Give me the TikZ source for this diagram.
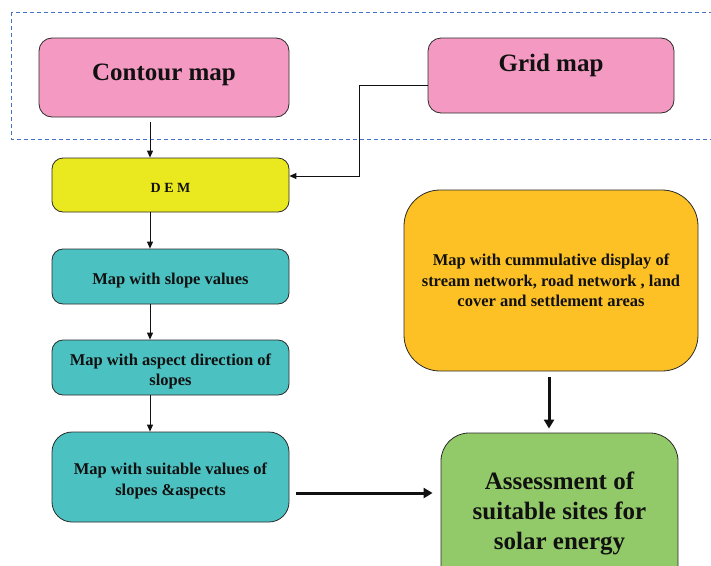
\documentclass[tikz,border=0pt]{standalone}
\usepackage{fontspec}
\setmainfont{Liberation Serif}
\usetikzlibrary{arrows.meta, positioning}
\definecolor{ink}{HTML}{111111}
\definecolor{edge}{HTML}{2B2B2B}
\definecolor{pinkfill}{HTML}{F49AC2}
\definecolor{yellowfill}{HTML}{EAE81E}
\definecolor{tealfill}{HTML}{4CC1C1}
\definecolor{orangefill}{HTML}{FDC125}
\definecolor{greenfill}{HTML}{93CA69}
\definecolor{dashblue}{HTML}{4472C4}
\tikzset{
  %
  stage/.style={
    draw=edge, line width=0.8pt, rounded corners=11pt, align=center,
    text=ink, inner sep=4pt, font=\bfseries\fontsize{16.5}{20.5}\selectfont,
  },
  stagepink/.style={stage, fill=pinkfill, rounded corners=13pt,
                    font=\bfseries\fontsize{25}{30}\selectfont},
  stageyel/.style={stage, fill=yellowfill},
  stageteal/.style={stage, fill=tealfill},
  stageorg/.style={stage, fill=orangefill, rounded corners=36pt},
  stagegrn/.style={stage, fill=greenfill, rounded corners=28pt,
                   font=\bfseries\fontsize{25}{30}\selectfont},
  %
  flow/.style={draw=ink, line width=0.9pt, -{Triangle[length=7pt, width=6pt]}},
  flowbold/.style={draw=ink, line width=3pt, -{Triangle[length=9pt, width=10pt]}},
  frame/.style={draw=dashblue, line width=0.9pt, dash pattern=on 4pt off 3pt},
}

\begin{document}
\begin{tikzpicture}[x=1pt, y=-1pt]

  \clip (0,0) rectangle (711,565);

  % input layer
  \draw[frame] (11,12) rectangle (725,139);

  \node[stagepink, minimum width=250, minimum height=79, text depth=11.5pt]
    (contour) at (164,77.5) {Contour map};
  \node[stagepink, minimum width=246, minimum height=75, text depth=25pt]
    (grid) at (551,75.5) {Grid map};

  % slope chain
  \node[stageyel, minimum width=237, minimum height=54, text height=15pt,
        font=\bfseries\fontsize{14}{17}\selectfont]
    (dem) at (170.5,185) {D E M};
  \node[stageteal, minimum width=237, minimum height=55, text height=20pt]
    (slope) at (170.5,276.5) {Map with slope values};
  \node[stageteal, minimum width=237, minimum height=55, text height=40pt]
    (aspect) at (170.5,367.5) {Map with aspect direction of\\slopes};
  \node[stageteal, minimum width=237, minimum height=90, rounded corners=20pt,
        text height=40pt]
    (suit) at (170.5,477) {Map with suitable values of\\slopes \&aspects};

  % overlay and result
  \node[stageorg, minimum width=294, minimum height=181]
    (overlay) at (551,280.5)
    {Map with cummulative display of\\stream network, road network , land\\cover and settlement areas};
  \node[stagegrn, minimum width=237, minimum height=160]
    (result) at (559.5,513) {Assessment of\\suitable sites for\\solar energy};

  \coordinate (spine) at (150,0);
  \coordinate (elbow) at (359,176);

  \draw[flow, shorten <=5pt] (contour.south -| spine) -- (dem.north -| spine);
  \draw[flow] ([yshift=-9.5pt]grid.west) -| (elbow) -- (elbow -| dem.east);
  \draw[flow] (dem.south -| spine) -- (slope.north -| spine);
  \draw[flow] (slope.south -| spine) -- (aspect.north -| spine);
  \draw[flow] (aspect.south -| spine) -- (suit.north -| spine);

  \draw[flowbold, shorten <=7pt, shorten >=8pt]
    ([yshift=-16pt]suit.east) -- ([yshift=-16pt]suit.east -| result.west);
  \draw[flowbold, shorten <=6pt, shorten >=4pt]
    (overlay.south -| 549,0) -- (result.north -| 549,0);

\end{tikzpicture}
\end{document}
